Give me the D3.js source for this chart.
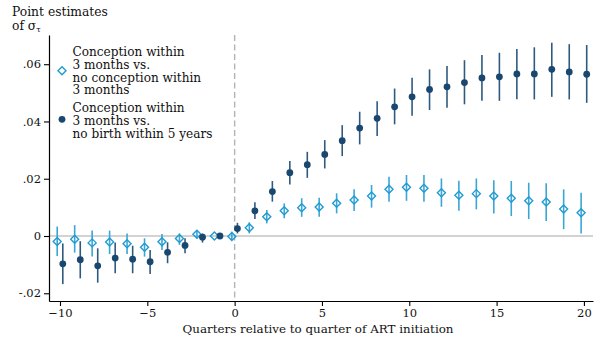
<!DOCTYPE html>
<html><head><meta charset="utf-8">
<script src="https://cdn.jsdelivr.net/npm/d3@7"></script>
<style>
body{margin:0;background:#fff;}
text{font-family:"DejaVu Serif",serif;fill:#111;}
</style></head>
<body><svg id="c" width="595" height="346"></svg>
<script>
const quarters = d3.range(-10, 21);
// Series A: conception within 3 months vs. no conception within 3 months
const estA = [-0.0019,-0.0011,-0.0024,-0.0021,-0.0027,-0.0039,-0.0020,-0.0009,0.0006,0,-0.0002,0.0029,0.0067,0.0088,0.0099,0.0101,0.0114,0.0126,0.0140,0.0163,0.0170,0.0167,0.0151,0.0142,0.0148,0.0140,0.0132,0.0123,0.0119,0.0094,0.0081];
const loA  = [-0.0070,-0.0058,-0.0072,-0.0063,-0.0063,-0.0072,-0.0049,-0.0031,-0.0008,0,-0.0014,0.0009,0.0044,0.0062,0.0067,0.0067,0.0079,0.0087,0.0099,0.0120,0.0123,0.0120,0.0102,0.0088,0.0093,0.0079,0.0070,0.0059,0.0052,0.0024,0.0009];
const hiA  = [0.0033,0.0038,0.0019,0.0019,0.0009,-0.0008,0.0007,0.0009,0.0021,0,0.0015,0.0048,0.0091,0.0114,0.0132,0.0134,0.0149,0.0163,0.0178,0.0207,0.0213,0.0213,0.0201,0.0193,0.0201,0.0195,0.0192,0.0186,0.0184,0.0163,0.0151];
// Series B: conception within 3 months vs. no birth within 5 years
const estB = [-0.0097,-0.0083,-0.0104,-0.0077,-0.0081,-0.0090,-0.0057,-0.0033,-0.0004,0,0.0026,0.0088,0.0155,0.0221,0.0249,0.0285,0.0333,0.0377,0.0411,0.0451,0.0486,0.0512,0.0521,0.0536,0.0552,0.0556,0.0566,0.0566,0.0582,0.0573,0.0565];
const loB  = [-0.0168,-0.0148,-0.0163,-0.0130,-0.0130,-0.0133,-0.0095,-0.0060,-0.0023,0,0.0009,0.0059,0.0120,0.0180,0.0203,0.0236,0.0279,0.0320,0.0349,0.0390,0.0420,0.0440,0.0448,0.0460,0.0472,0.0472,0.0478,0.0477,0.0486,0.0477,0.0465];
const hiB  = [-0.0026,-0.0018,-0.0043,-0.0023,-0.0034,-0.0049,-0.0022,-0.0008,0.0009,0,0.0046,0.0118,0.0192,0.0262,0.0294,0.0335,0.0387,0.0434,0.0471,0.0515,0.0553,0.0582,0.0594,0.0614,0.0632,0.0640,0.0653,0.0659,0.0675,0.0670,0.0667];
const xTicks = [-10,-5,0,5,10,15,20];
const yTicks = [-0.02,0,0.02,0.04,0.06];
const yTickLabels = ["-.02","0",".02",".04",".06"];
const legendA = ["Conception within","3 months vs.","no conception within","3 months"];
const legendB = ["Conception within","3 months vs.","no birth within 5 years"];

const colA = "#1f9bd1", colB = "#1a476f";
const svg = d3.select("#c");
const L = 49, R = 593, T = 35, B = 301;
const x = d3.scaleLinear().domain([-10.63, 20.52]).range([L, R]);
const y = d3.scaleLinear().domain([-0.0227, 0.0702]).range([B, T]);
const off = 0.16;
const fs = "12.1px";

// zero line
svg.append("line").attr("x1", L).attr("x2", R).attr("y1", y(0)).attr("y2", y(0))
  .attr("stroke", "#c4c4c4").attr("stroke-width", 1.6);
// dashed vertical at 0
svg.append("line").attr("x1", x(0)).attr("x2", x(0)).attr("y1", T).attr("y2", B)
  .attr("stroke", "#b4b4b4").attr("stroke-width", 1.4).attr("stroke-dasharray", "6,3.5");

// axes
const yAxis = svg.append("g").attr("transform", `translate(${L},0)`)
  .call(d3.axisLeft(y).tickValues(yTicks).tickFormat((d,i)=>yTickLabels[i]).tickSize(5).tickPadding(3).tickSizeOuter(0));
const xAxis = svg.append("g").attr("transform", `translate(0,${B})`)
  .call(d3.axisBottom(x).tickValues(xTicks).tickSize(5).tickPadding(3).tickSizeOuter(0));
[yAxis, xAxis].forEach(g => {
  g.select(".domain").attr("stroke", "#000").attr("stroke-width", 1.2);
  g.selectAll(".tick line").attr("stroke", "#000").attr("stroke-width", 1.1);
  g.selectAll("text").style("font-family", "DejaVu Serif").style("font-size", "11.5px").attr("fill", "#111");
});

// CI and points
const dA = quarters.map((q,i)=>({q, e:estA[i], lo:loA[i], hi:hiA[i]}));
const dB = quarters.map((q,i)=>({q, e:estB[i], lo:loB[i], hi:hiB[i]}));
svg.append("g").selectAll("line").data(dA.filter(d=>d.lo!==d.hi)).join("line")
  .attr("x1", d=>x(d.q-off)).attr("x2", d=>x(d.q-off)).attr("y1", d=>y(d.lo)).attr("y2", d=>y(d.hi))
  .attr("stroke", "#3aa6d6").attr("stroke-width", 1.6);
svg.append("g").selectAll("line").data(dB.filter(d=>d.lo!==d.hi)).join("line")
  .attr("x1", d=>x(d.q+off)).attr("x2", d=>x(d.q+off)).attr("y1", d=>y(d.lo)).attr("y2", d=>y(d.hi))
  .attr("stroke", "#2f5a80").attr("stroke-width", 1.6);
const diamond = (cx, cy, r) => `M${cx},${cy-r}L${cx+r},${cy}L${cx},${cy+r}L${cx-r},${cy}Z`;
svg.append("g").selectAll("path").data(dA).join("path")
  .attr("d", d=>diamond(x(d.q-off), y(d.e), 4))
  .attr("fill", "#fff").attr("fill-opacity", 0).attr("stroke", colA).attr("stroke-width", 1.4);
svg.append("g").selectAll("circle").data(dB).join("circle")
  .attr("cx", d=>x(d.q+off)).attr("cy", d=>y(d.e)).attr("r", 3.4).attr("fill", colB);

// titles
svg.append("text").attr("x", 12).attr("y", 16).style("font-size", "12.3px").text("Point estimates");
const t2 = svg.append("text").attr("x", 12).attr("y", 30).style("font-size", "12.3px");
t2.append("tspan").text("of σ");
t2.append("tspan").attr("font-size", "8px").attr("dy", 2).text("τ");
svg.append("text").attr("x", (L+R)/2 - 3).attr("y", 333).attr("text-anchor", "middle").style("font-size", "11.9px")
  .text("Quarters relative to quarter of ART initiation");

// legend
svg.append("path").attr("d", diamond(62, 70.7, 4)).attr("fill", "none").attr("stroke", colA).attr("stroke-width", 1.4);
svg.append("circle").attr("cx", 62).attr("cy", 119.3).attr("r", 3.4).attr("fill", colB);
legendA.forEach((s,i)=>svg.append("text").attr("x", 72.5).attr("y", 56 + i*12.8).style("font-size", fs).text(s));
legendB.forEach((s,i)=>svg.append("text").attr("x", 72.5).attr("y", 112.3 + i*12.8).style("font-size", fs).text(s));
</script></body></html>
